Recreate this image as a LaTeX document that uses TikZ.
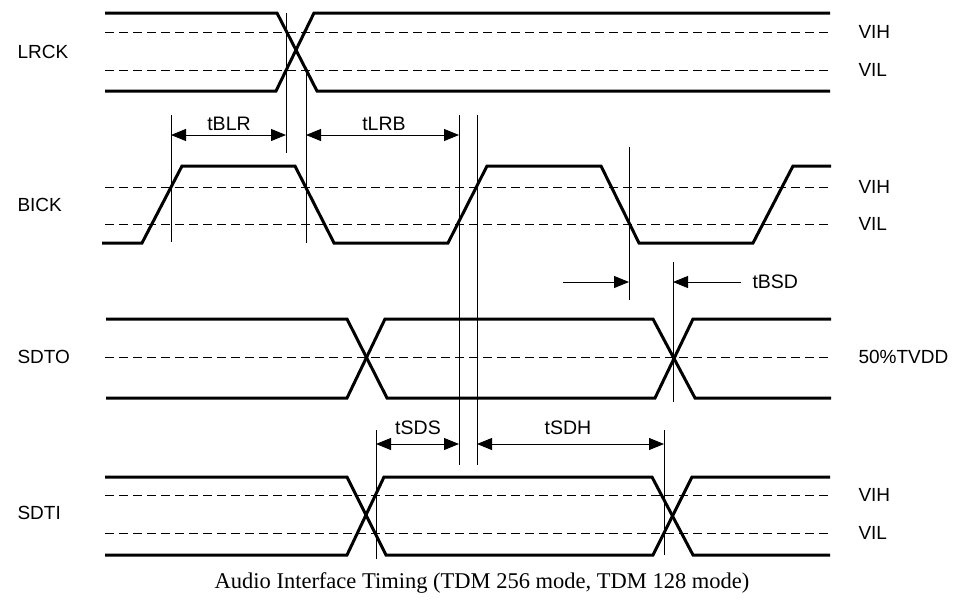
\documentclass[tikz,border=0pt]{standalone}
\usepackage{fontspec}
\setmainfont{Liberation Sans}
\newfontfamily\captionfont{Liberation Serif}
\usetikzlibrary{arrows.meta}

\begin{document}
\begin{tikzpicture}[x=1pt, y=-1pt,
    sig/.style={line width=3pt},
    thresh/.style={line width=0.9pt, dash pattern=on 9pt off 5pt},
    guide/.style={line width=0.9pt},
    dimboth/.style={line width=0.9pt, {Triangle[length=15pt,width=12pt]}-{Triangle[length=15pt,width=12pt]}},
    dimone/.style={line width=0.9pt, -{Triangle[length=15pt,width=12pt]}},
    sigtag/.style={anchor=west, font=\fontsize{19}{22}\selectfont},
    timelbl/.style={font=\fontsize{19.5}{22}\selectfont}
  ]
  \useasboundingbox (0,0) rectangle (964,606);

  % threshold levels
  \foreach \y in {32,70,187,224,357,495,533}
    \draw[thresh] (105,\y) -- (832,\y);

  % LRCK
  \draw[sig] (105,13) -- (277,13) -- (317,91) -- (830,91);
  \draw[sig] (105,91) -- (276,91) -- (314,13) -- (830,13);

  % BICK
  \draw[sig] (102,243) -- (142,243) -- (182,166) -- (295,166) -- (334,243)
    -- (448,243) -- (487,166) -- (601,166) -- (639,243) -- (753,243)
    -- (793,166) -- (831,166);

  % SDTO
  \draw[sig] (106,319) -- (347,319) -- (387,398) -- (655,398) -- (693,319) -- (831,319);
  \draw[sig] (106,398) -- (347,398) -- (385,319) -- (653,319) -- (695,398) -- (831,398);

  % SDTI
  \draw[sig] (105,477) -- (347,477) -- (386,555) -- (653,555) -- (692,477) -- (830,477);
  \draw[sig] (105,555) -- (347,555) -- (384,477) -- (652,477) -- (693,555) -- (830,555);

  % timing guides
  \draw[guide] (286,13) -- (286,153);
  \draw[guide] (306,70) -- (306,243);
  \draw[guide] (171,115) -- (171,242);
  \draw[guide] (459,115) -- (459,465);
  \draw[guide] (477,115) -- (477,465);
  \draw[guide] (629,147) -- (629,300);
  \draw[guide] (673,262) -- (673,402);
  \draw[guide] (376,430) -- (376,559);
  \draw[guide] (664,430) -- (664,555);

  % arrow ends
  \coordinate (blrA) at (171,135);
  \coordinate (blrB) at (286,135);
  \coordinate (lrbA) at (306,135);
  \coordinate (lrbB) at (459,135);
  \coordinate (bsdA) at (563,282);
  \coordinate (bsdB) at (629,282);
  \coordinate (bsdC) at (741,282);
  \coordinate (bsdD) at (673,282);
  \coordinate (sdsA) at (376,444);
  \coordinate (sdsB) at (459,444);
  \coordinate (sdhA) at (477,444);
  \coordinate (sdhB) at (664,444);

  \draw[dimboth] (blrA) -- (blrB);
  \draw[dimboth] (lrbA) -- (lrbB);
  \draw[dimone] (bsdA) -- (bsdB);
  \draw[dimone] (bsdC) -- (bsdD);
  \draw[dimboth] (sdsA) -- (sdsB);
  \draw[dimboth] (sdhA) -- (sdhB);

  \node[timelbl] (tblr) at (229,124) {tBLR};
  \node[timelbl] (tlrb) at (384,124) {tLRB};
  \node[timelbl, anchor=west] (tbsd) at (749,282) {tBSD};
  \node[timelbl] (tsds) at (418,428) {tSDS};
  \node[timelbl] (tsdh) at (568,428) {tSDH};

  % signal names
  \node[sigtag] (lrck) at (14,52) {LRCK};
  \node[sigtag] (bick) at (14,205) {BICK};
  \node[sigtag] (sdto) at (14,357) {SDTO};
  \node[sigtag] (sdti) at (14,513) {SDTI};

  % level names
  \foreach \y/\t in {32/VIH, 70/VIL, 187/VIH, 224/VIL, 357/50\%TVDD, 495/VIH, 533/VIL}
    \node[sigtag] (lv\y) at (855,\y) {\t};

  \node[font=\captionfont\fontsize{22.5}{26}\selectfont] (cap) at (482,583)
    {Audio Interface Timing (TDM 256 mode, TDM 128 mode)};
\end{tikzpicture}
\end{document}
